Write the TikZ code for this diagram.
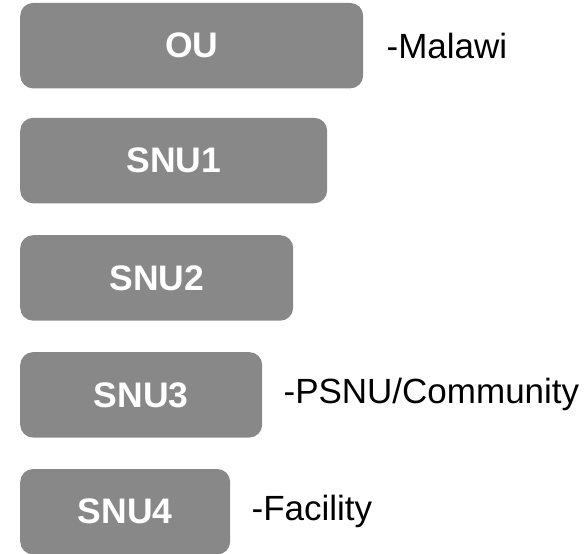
\documentclass[tikz,border=0pt]{standalone}
\usepackage{fontspec}
\setmainfont{Liberation Sans}
\usepackage{xcolor}
\usetikzlibrary{positioning}
\definecolor{levelgray}{HTML}{888888}
\tikzstyle{level} = [rectangle, rounded corners=13pt, minimum height=85.5pt, inner sep=0pt, text centered, fill=levelgray, text=white, font=\fontsize{35.5}{42}\selectfont\bfseries]
\tikzstyle{note} = [inner sep=0pt, anchor=west, font=\fontsize{35}{42}\selectfont]

\begin{document}
\begin{tikzpicture}[x=1pt, y=1pt, node distance=31pt]
    \useasboundingbox (0,0) rectangle (587,-554);
    \node (ou) [level, minimum width=343pt, anchor=north west] at (20,-2.7) {OU};
    \node (snu1) [level, minimum width=307pt, below right=29pt and 0pt of ou.south west] {SNU1};
    \node (snu2) [level, minimum width=273pt, below right=31.5pt and 0pt of snu1.south west] {SNU2};
    \node (snu3) [level, minimum width=242pt, below right=31pt and 0pt of snu2.south west] {SNU3};
    \node (snu4) [level, minimum width=210pt, below right=31pt and 0pt of snu3.south west] {SNU4};

    \node (malawi) [note, right=23pt of ou] {-Malawi};
    \node (psnu) [note, right=21pt of snu3] {-PSNU/Community};
    \node (facility) [note, right=21pt of snu4] {-Facility};
\end{tikzpicture}
\end{document}
